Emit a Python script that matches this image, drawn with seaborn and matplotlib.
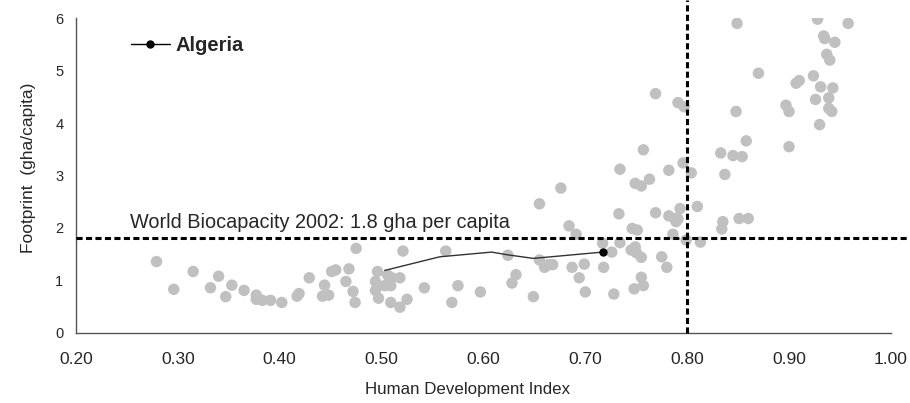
import numpy as np
import pandas as pd
import matplotlib
matplotlib.use("Agg")
import matplotlib.pyplot as plt
import seaborn as sns
from matplotlib.lines import Line2D

# Countries: HDI vs ecological footprint (gha/capita)
hdi = [
    0.279, 0.296, 0.315, 0.332, 0.340, 0.347, 0.353, 0.365, 0.377, 0.377,
    0.383, 0.391, 0.402, 0.417, 0.419, 0.429, 0.442, 0.444, 0.448, 0.451,
    0.455, 0.468, 0.465, 0.472, 0.474, 0.475,
    0.496, 0.494, 0.494, 0.497, 0.506, 0.510, 0.518, 0.503, 0.509, 0.509,
    0.518, 0.525, 0.521, 0.542, 0.563, 0.569, 0.575, 0.597, 0.624, 0.628,
    0.632, 0.649, 0.655, 0.655, 0.660, 0.664, 0.668, 0.676, 0.684, 0.691,
    0.687, 0.694, 0.699, 0.700,
    0.717, 0.726, 0.718, 0.733, 0.734, 0.728, 0.734, 0.749, 0.755, 0.763,
    0.757, 0.769, 0.746, 0.751, 0.745, 0.749, 0.750, 0.755, 0.775, 0.780,
    0.755, 0.757, 0.748, 0.769, 0.782, 0.793, 0.788, 0.791, 0.789, 0.810,
    0.786, 0.799, 0.813, 0.782, 0.796, 0.804, 0.791, 0.797,
    0.835, 0.834, 0.851, 0.860, 0.837, 0.833, 0.845, 0.854, 0.858, 0.848,
    0.849, 0.870, 0.900, 0.897, 0.900, 0.907, 0.910, 0.924, 0.926, 0.928,
    0.930, 0.931, 0.934, 0.935, 0.937, 0.939, 0.939, 0.940, 0.942, 0.943,
    0.945, 0.958,
]
footprint = [
    1.36, 0.83, 1.17, 0.86, 1.08, 0.69, 0.91, 0.81, 0.72, 0.64,
    0.62, 0.62, 0.58, 0.70, 0.75, 1.05, 0.70, 0.91, 0.72, 1.17,
    1.20, 1.22, 0.98, 0.79, 0.58, 1.61,
    1.17, 0.98, 0.81, 0.66, 1.10, 1.05, 1.05, 0.90, 0.90, 0.58,
    0.49, 0.64, 1.56, 0.86, 1.56, 0.58, 0.90, 0.78, 1.48, 0.95,
    1.11, 0.69, 2.46, 1.39, 1.25, 1.30, 1.30, 2.76, 2.04, 1.88,
    1.25, 1.05, 1.31, 0.78,
    1.71, 1.54, 1.25, 2.27, 1.72, 0.74, 3.12, 2.85, 2.80, 2.93,
    3.49, 4.56, 1.99, 1.96, 1.58, 1.64, 1.53, 1.44, 1.45, 1.25,
    1.06, 0.90, 0.84, 2.29, 2.23, 2.37, 2.18, 2.17, 2.12, 2.41,
    1.88, 1.77, 1.73, 3.10, 3.24, 3.05, 4.39, 4.31,
    2.12, 1.98, 2.18, 2.18, 3.02, 3.43, 3.38, 3.36, 3.66, 4.22,
    5.90, 4.95, 3.55, 4.34, 4.22, 4.76, 4.81, 4.90, 4.45, 5.98,
    3.97, 4.69, 5.66, 5.61, 5.31, 4.48, 4.28, 5.20, 4.22, 4.67,
    5.54, 5.90,
]

# Algeria trajectory
alg_hdi = [0.503, 0.557, 0.608, 0.623, 0.649, 0.717]
alg_fp = [1.19, 1.45, 1.54, 1.49, 1.42, 1.54]

biocap = 1.8
hdi_threshold = 0.8

x_ticks = [0.2, 0.3, 0.4, 0.5, 0.6, 0.7, 0.8, 0.9, 1.0]
y_ticks = [0, 1, 2, 3, 4, 5, 6]

df = pd.DataFrame({"hdi": hdi, "footprint": footprint})

sns.set_style("white")
plt.rcParams["font.family"] = ["Liberation Sans", "DejaVu Sans"]

fig = plt.figure(figsize=(9.1, 4.03), dpi=100)
ax = fig.add_axes([0.0835, 0.174, 0.8955, 0.781])

sns.scatterplot(data=df, x="hdi", y="footprint", color="#c0c0c0",
                s=68, edgecolor="none", ax=ax, zorder=2)

ax.plot(alg_hdi, alg_fp, color="#333333", lw=1, zorder=3)
ax.plot(alg_hdi[-1:], alg_fp[-1:], "o", color="black", ms=5, zorder=4)

# reference lines
ax.plot([0.2, 1.018], [biocap, biocap], color="black", lw=2.2,
        dashes=(2, 1.1), clip_on=False, zorder=5)
ax.plot([hdi_threshold, hdi_threshold], [0, 6.34], color="black", lw=2.2,
        dashes=(2, 1.1), clip_on=False, zorder=5)

ax.text(0.253, 2.0, "World Biocapacity 2002: 1.8 gha per capita",
        fontsize=14.3, va="baseline", ha="left")

handle = Line2D([0], [0], color="black", lw=1, marker="o", ms=5)
ax.legend([handle], ["Algeria"], loc="center left",
          bbox_to_anchor=(0.058, 0.914), frameon=False,
          prop={"weight": "bold", "size": 14.5}, handlelength=1.9,
          handletextpad=0.3, borderaxespad=0)

ax.set_xlim(0.2, 1.0)
ax.set_ylim(0, 6)
ax.set_xticks(x_ticks)
ax.set_xticklabels([f"{t:.2f}" for t in x_ticks], fontsize=12.5)
ax.set_yticks(y_ticks)
ax.set_yticklabels([str(t) for t in y_ticks], fontsize=10.5)
ax.tick_params(axis="x", direction="out", length=6, width=1, color="#555555", pad=8)
ax.tick_params(axis="y", direction="inout", length=8, width=1, color="#555555", pad=5)

for side in ["top", "right"]:
    ax.spines[side].set_visible(False)
for side in ["left", "bottom"]:
    ax.spines[side].set_color("#555555")
    ax.spines[side].set_linewidth(1)

ax.set_xlabel("Human Development Index", fontsize=12.2)
ax.set_ylabel("Footprint  (gha/capita)", fontsize=12.5)
ax.xaxis.set_label_coords(0.48, -0.155)
ax.yaxis.set_label_coords(-0.049, 0.524)

fig.savefig("out.png", dpi=100)
